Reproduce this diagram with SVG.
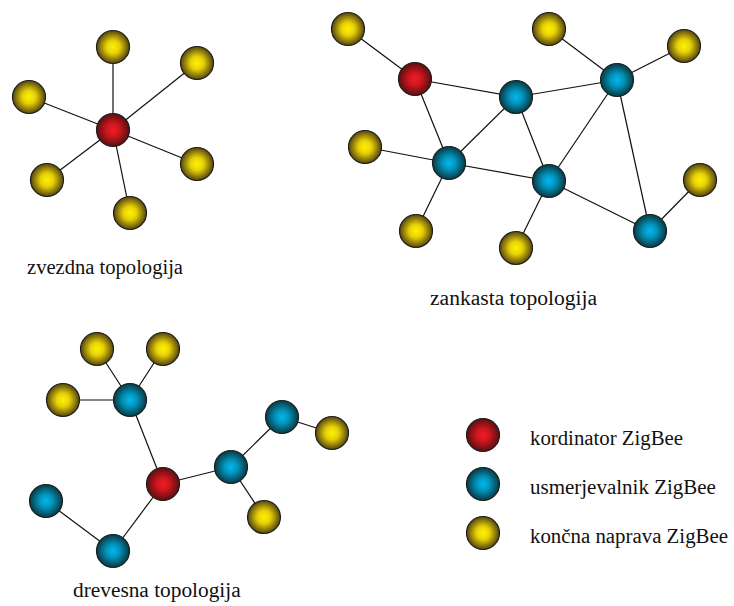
<svg xmlns="http://www.w3.org/2000/svg" width="734" height="606" viewBox="0 0 734 606">
<defs>
<radialGradient id="gy" cx="50%" cy="50%" r="50%">
<stop offset="0" stop-color="#fff200"/><stop offset="0.4" stop-color="#e6d008"/><stop offset="1" stop-color="#54440e"/>
</radialGradient>
<radialGradient id="gb" cx="50%" cy="50%" r="50%">
<stop offset="0" stop-color="#00b8f4"/><stop offset="0.4" stop-color="#0494bc"/><stop offset="1" stop-color="#063a44"/>
</radialGradient>
<radialGradient id="gr" cx="50%" cy="50%" r="50%">
<stop offset="0" stop-color="#f41c24"/><stop offset="0.4" stop-color="#cc161e"/><stop offset="1" stop-color="#581010"/>
</radialGradient>
</defs>
<style>
.y{fill:url(#gy);stroke:#1e1e1e;stroke-width:1.2}
.b{fill:url(#gb);stroke:#1e1e1e;stroke-width:1.2}
.r{fill:url(#gr);stroke:#1e1e1e;stroke-width:1.2}
#edges line{stroke:#111;stroke-width:1.2}
.t{font-family:"Liberation Serif","Times New Roman",serif;font-size:16px;fill:#111}
</style>
<rect width="734" height="606" fill="#fff"/>
<g id="edges">
<line x1="113" y1="130" x2="113" y2="47"/>
<line x1="113" y1="130" x2="197" y2="63"/>
<line x1="113" y1="130" x2="29" y2="97"/>
<line x1="113" y1="130" x2="197" y2="164"/>
<line x1="113" y1="130" x2="47" y2="180"/>
<line x1="113" y1="130" x2="130" y2="213"/>
<line x1="348" y1="29" x2="415" y2="79"/>
<line x1="415" y1="79" x2="516" y2="97"/>
<line x1="415" y1="79" x2="449" y2="163"/>
<line x1="516" y1="97" x2="617" y2="80"/>
<line x1="516" y1="97" x2="449" y2="163"/>
<line x1="516" y1="97" x2="549" y2="181"/>
<line x1="549" y1="29" x2="617" y2="80"/>
<line x1="684" y1="46" x2="617" y2="80"/>
<line x1="617" y1="80" x2="549" y2="181"/>
<line x1="617" y1="80" x2="650" y2="231"/>
<line x1="365" y1="147" x2="449" y2="163"/>
<line x1="449" y1="163" x2="549" y2="181"/>
<line x1="449" y1="163" x2="416" y2="231"/>
<line x1="549" y1="181" x2="516" y2="248"/>
<line x1="549" y1="181" x2="650" y2="231"/>
<line x1="700" y1="180" x2="650" y2="231"/>
<line x1="97" y1="349" x2="130" y2="400"/>
<line x1="163" y1="349" x2="130" y2="400"/>
<line x1="63" y1="400" x2="130" y2="400"/>
<line x1="130" y1="400" x2="163" y2="484"/>
<line x1="163" y1="484" x2="231" y2="467"/>
<line x1="231" y1="467" x2="282" y2="417"/>
<line x1="282" y1="417" x2="332" y2="433"/>
<line x1="231" y1="467" x2="264" y2="517"/>
<line x1="163" y1="484" x2="113" y2="551"/>
<line x1="113" y1="551" x2="46" y2="501"/>
</g>
<g id="star">
<g id="s-top"><circle class="y" cx="113" cy="47" r="16.5"/></g>
<g id="s-tr"><circle class="y" cx="197" cy="63" r="16.5"/></g>
<g id="s-l"><circle class="y" cx="29" cy="97" r="16.5"/></g>
<g id="s-c"><circle class="r" cx="113" cy="130" r="16.5"/></g>
<g id="s-r"><circle class="y" cx="197" cy="164" r="16.5"/></g>
<g id="s-bl"><circle class="y" cx="47" cy="180" r="16.5"/></g>
<g id="s-b"><circle class="y" cx="130" cy="213" r="16.5"/></g>
<g transform="translate(27 274) scale(1.3)"><text class="t" x="0" y="0" textLength="120" lengthAdjust="spacingAndGlyphs">zvezdna topologija</text></g>
</g>
<g id="mesh">
<g id="m-y1"><circle class="y" cx="348" cy="29" r="16.5"/></g>
<g id="m-c"><circle class="r" cx="415" cy="79" r="16.5"/></g>
<g id="m-b1"><circle class="b" cx="516" cy="97" r="16.5"/></g>
<g id="m-y2"><circle class="y" cx="549" cy="29" r="16.5"/></g>
<g id="m-y3"><circle class="y" cx="684" cy="46" r="16.5"/></g>
<g id="m-b2"><circle class="b" cx="617" cy="80" r="16.5"/></g>
<g id="m-y4"><circle class="y" cx="365" cy="147" r="16.5"/></g>
<g id="m-b3"><circle class="b" cx="449" cy="163" r="16.5"/></g>
<g id="m-b4"><circle class="b" cx="549" cy="181" r="16.5"/></g>
<g id="m-y5"><circle class="y" cx="700" cy="180" r="16.5"/></g>
<g id="m-y6"><circle class="y" cx="416" cy="231" r="16.5"/></g>
<g id="m-y7"><circle class="y" cx="516" cy="248" r="16.5"/></g>
<g id="m-b5"><circle class="b" cx="650" cy="231" r="16.5"/></g>
<g transform="translate(430 305) scale(1.3)"><text class="t" x="0" y="0" textLength="128.5" lengthAdjust="spacingAndGlyphs">zankasta topologija</text></g>
</g>
<g id="tree">
<g id="t-y1"><circle class="y" cx="97" cy="349" r="16.5"/></g>
<g id="t-y2"><circle class="y" cx="163" cy="349" r="16.5"/></g>
<g id="t-y3"><circle class="y" cx="63" cy="400" r="16.5"/></g>
<g id="t-b1"><circle class="b" cx="130" cy="400" r="16.5"/></g>
<g id="t-b2"><circle class="b" cx="282" cy="417" r="16.5"/></g>
<g id="t-y4"><circle class="y" cx="332" cy="433" r="16.5"/></g>
<g id="t-b3"><circle class="b" cx="231" cy="467" r="16.5"/></g>
<g id="t-c"><circle class="r" cx="163" cy="484" r="16.5"/></g>
<g id="t-b4"><circle class="b" cx="46" cy="501" r="16.5"/></g>
<g id="t-y5"><circle class="y" cx="264" cy="517" r="16.5"/></g>
<g id="t-b5"><circle class="b" cx="113" cy="551" r="16.5"/></g>
<g transform="translate(73 597) scale(1.3)"><text class="t" x="0" y="0" textLength="129" lengthAdjust="spacingAndGlyphs">drevesna topologija</text></g>
</g>
<g id="legend">
<g id="l-r"><circle class="r" cx="483" cy="435" r="16.5"/><g transform="translate(530 445) scale(1.3)"><text class="t" x="0" y="0" textLength="117.7" lengthAdjust="spacingAndGlyphs">kordinator ZigBee</text></g></g>
<g id="l-b"><circle class="b" cx="483" cy="484" r="16.5"/><g transform="translate(530 494) scale(1.3)"><text class="t" x="0" y="0" textLength="143" lengthAdjust="spacingAndGlyphs">usmerjevalnik ZigBee</text></g></g>
<g id="l-y"><circle class="y" cx="483" cy="533" r="16.5"/><g transform="translate(530 543) scale(1.3)"><text class="t" x="0" y="0" textLength="152.3" lengthAdjust="spacingAndGlyphs">končna naprava ZigBee</text></g></g>
</g>
</svg>
